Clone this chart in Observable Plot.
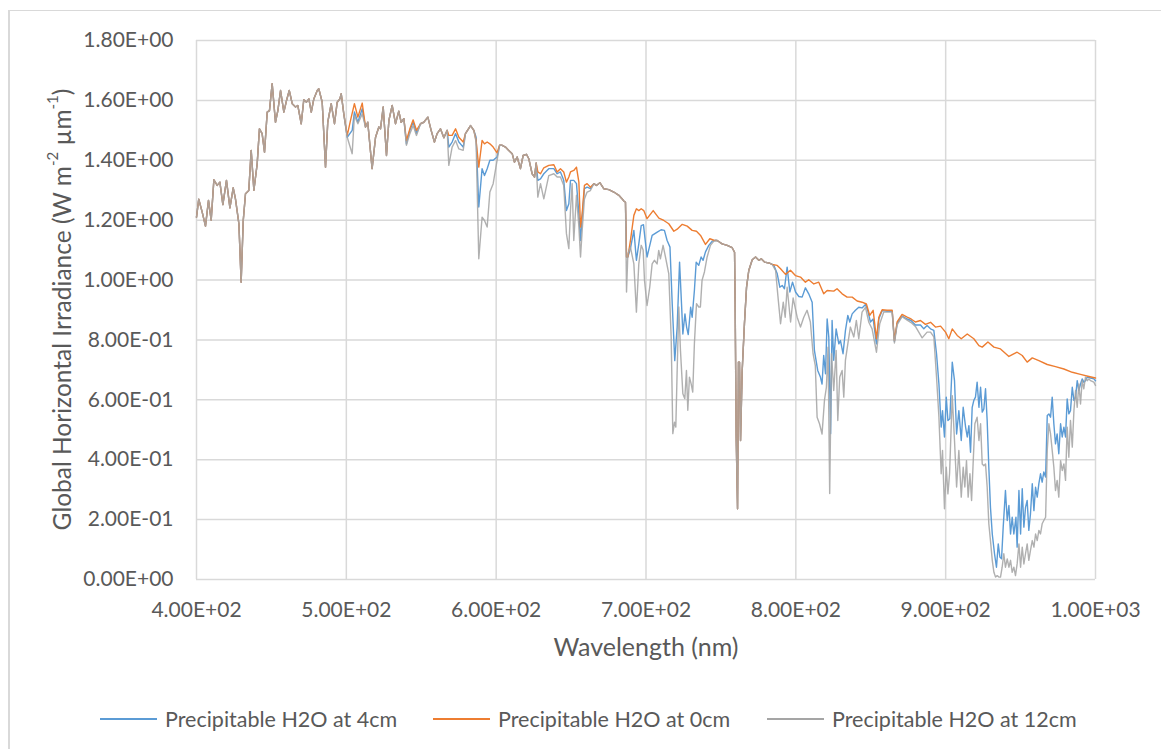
<!DOCTYPE html>
<html>
<head>
<meta charset="utf-8">
<script src="https://cdn.jsdelivr.net/npm/d3@7"></script>
<script src="https://cdn.jsdelivr.net/npm/@observablehq/plot@0.6"></script>
<style>
  html, body { margin: 0; padding: 0; background: #fff; overflow: hidden; }
  #wrap { position: relative; width: 1161px; height: 749px; font-family: Lato, "Open Sans", sans-serif; color: #595959; }
  #frame { position: absolute; left: 8px; top: 10px; width: 1300px; height: 900px; border-left: 2px solid #d9d9d9; border-top: 1.5px solid #d9d9d9; box-sizing: border-box; }
  #chart { position: absolute; left: 0; top: 0; }
  .legend-item { position: absolute; top: 705px; height: 28px; display: flex; align-items: center; font-size: 21.5px; white-space: nowrap; }
  .legend-item .swatch { width: 57px; height: 0; border-top: 2px solid; margin-right: 8px; }
</style>
</head>
<body>
<div id="wrap">
  <div id="frame"></div>
  <div id="chart"></div>
</div>
<script>
// Global horizontal irradiance spectra (W m-2 um-1) vs wavelength (nm)
// for three precipitable water amounts. Pairs are [wavelength, irradiance].

const seriesNames = ["Precipitable H2O at 4cm", "Precipitable H2O at 0cm", "Precipitable H2O at 12cm"];
const seriesColors = ["#5B9BD5", "#ED7D31", "#A5A5A5"];
const xTicks = [400, 500, 600, 700, 800, 900, 1000];
const yTicks = [0, 0.2, 0.4, 0.6, 0.8, 1.0, 1.2, 1.4, 1.6, 1.8];

// Stretches where the three spectra coincide
const sharedBlue = [[400,1.21],[401.5,1.27],[403.8,1.227],[406,1.18],[408,1.266],[409.8,1.2],[411.6,1.335],[413.8,1.316],[415.6,1.327],[417.6,1.252],[420,1.333],[422.3,1.241],[424.5,1.308],[426,1.271],[428.3,1.188],[429.8,0.993],[431.2,1.199],[432.7,1.288],[434.9,1.299],[436.5,1.433],[438.3,1.3],[440.5,1.388],[442,1.505],[443.8,1.489],[445.4,1.427],[447.2,1.561],[448.7,1.566],[450.5,1.656],[452.7,1.527],[454.3,1.566],[456.1,1.633],[458.3,1.561],[460.1,1.6],[461.9,1.633],[463.9,1.589],[466.1,1.578],[467.6,1.583],[469.9,1.522],[471.6,1.602],[473.4,1.594],[475,1.605],[476.6,1.561],[478.3,1.605],[480.6,1.633],[481.6,1.639],[483.9,1.594],[486.1,1.377],[487.6,1.527],[489.9,1.589],[492.1,1.522],[493.9,1.594],[495.7,1.605],[496.6,1.622],[498.3,1.555]];
const sharedOrange = [[604,1.45],[606.2,1.444],[608.4,1.433],[610.7,1.422],[612.2,1.394],[614,1.411],[616.2,1.372],[618,1.416],[620.2,1.42],[621.8,1.405],[624,1.355],[625.6,1.344]];
const sharedRed = [[665.2,1.322],[666.9,1.316],[669.2,1.325],[671.8,1.305],[675.2,1.302],[678.5,1.294],[681.9,1.283],[684.1,1.271],[685.2,1.264],[686.3,1.26]];
const sharedO2A = [[747.5,1.132],[750.8,1.121],[754.2,1.116],[757.5,1.108],[759.1,1.093],[759.5,0.921],[760.2,0.475],[761.1,0.236],[761.7,0.726],[762.4,0.726],[763.1,0.464],[764.2,0.698],[765.7,0.854],[767.1,0.976],[768.6,1.032],[770.9,1.068],[773.1,1.077],[775.3,1.066],[776.9,1.071],[779.1,1.06],[782,1.057],[784.2,1.052]];

// 0 cm of precipitable water
const dry500 = [[500.6,1.483],[502.8,1.533],[505.4,1.589],[507.7,1.544],[510.6,1.591],[512.8,1.511],[514.3,1.527],[517.2,1.372],[519.5,1.477],[521.7,1.511],[522.8,1.505],[524.6,1.578],[526.8,1.416],[528.4,1.533],[530.6,1.583],[532.8,1.522],[535,1.564],[536.6,1.527],[538.4,1.539],[540.1,1.466],[542.4,1.505],[544.6,1.535],[546.8,1.5],[549.5,1.522],[551.7,1.527],[554.4,1.544],[556.6,1.5],[558.8,1.461],[560.6,1.489],[562.8,1.505],[565.1,1.475],[567.3,1.5],[568.4,1.483],[570.6,1.483],[572.9,1.505],[575.1,1.477],[578,1.461],[579.5,1.489],[582.9,1.516],[585.1,1.5],[586.6,1.466],[588.4,1.377],[590.6,1.466],[592.2,1.455],[594,1.461],[595.8,1.455],[598,1.444],[600.6,1.425],[602.3,1.45]];
const dry630 = [[626.7,1.391],[627.8,1.361],[629.6,1.355],[631.8,1.375],[635.1,1.383],[638.5,1.385],[640.7,1.361],[642.9,1.372],[645.1,1.361],[646.9,1.327],[648.5,1.344],[649.6,1.361],[651.8,1.366],[653.6,1.377],[655.2,1.327],[656.3,1.177],[657.4,1.221],[658.9,1.316],[660.7,1.322],[662.9,1.31]];
const dry690 = [[687,1.077],[687.9,1.077],[689.6,1.132],[691.9,1.216],[693.6,1.238],[695.2,1.232],[696.8,1.238],[698.5,1.232],[700.7,1.205],[704.8,1.232],[708.6,1.207],[711.9,1.199],[715.2,1.188],[718.6,1.163],[720.8,1.17],[724.2,1.186],[727.5,1.18],[730.8,1.166],[733.7,1.163],[736.4,1.149],[739.7,1.119],[742.6,1.138],[745.3,1.133]];
const dry790 = [[787.6,1.049],[789.8,1.038],[793.1,1.019],[796.4,1.033],[799.7,1.015],[803.1,1.01],[806.4,0.993],[808.6,1.001],[812,0.987],[815.3,0.993],[818.6,0.954],[820.9,0.965],[825.3,0.963],[827.5,0.971],[830.9,0.954],[834.2,0.943],[837.6,0.943],[840.9,0.93],[844.2,0.926],[847.1,0.92],[849.3,0.882],[851.6,0.899],[853.8,0.804],[855.4,0.876],[857.6,0.901],[860.9,0.899],[864.3,0.899],[865.8,0.798],[867.6,0.86],[870.9,0.885],[874.3,0.876],[876.9,0.87],[879.8,0.86],[883.2,0.865],[886.5,0.852],[889.9,0.859],[893.2,0.843],[896.6,0.846],[899.9,0.826],[902.1,0.804],[904.4,0.837],[907.7,0.815],[910.4,0.804],[914.4,0.82],[918.8,0.804],[922.2,0.781],[924.4,0.776],[928.2,0.793],[932.2,0.776],[936.6,0.77],[942.2,0.745],[947.7,0.759],[951.1,0.748],[954.4,0.726],[957.8,0.74],[962.2,0.731],[967.8,0.718],[973.3,0.711],[978.9,0.703],[984.5,0.692],[990,0.685],[995.6,0.678],[1000,0.673]];

// 4 cm of precipitable water
const mid500 = [[500.6,1.477],[503.9,1.5],[505.4,1.561],[507.7,1.527],[510.6,1.572],[512.8,1.511],[514.3,1.527],[517.2,1.372],[519.5,1.477],[521.7,1.511],[522.8,1.505],[524.6,1.578],[526.8,1.416],[528.4,1.533],[530.6,1.583],[532.8,1.522],[535,1.564],[536.6,1.527],[538.4,1.539],[540.1,1.455],[542.4,1.5],[544.6,1.527],[546.8,1.489],[549.5,1.522],[551.7,1.527],[554.4,1.544],[556.6,1.5],[558.8,1.461],[560.6,1.489],[562.8,1.505],[565.1,1.475],[567.3,1.5],[568.4,1.444],[570.6,1.461],[572.9,1.489],[575.1,1.461],[578,1.444],[579.5,1.489],[582.9,1.516],[585.1,1.5],[586.6,1.477],[588.4,1.244],[590.6,1.372],[592.2,1.349],[594,1.372],[595.8,1.4],[598,1.4],[600.6,1.411],[602.3,1.45]];
const mid630 = [[626.7,1.391],[627.8,1.333],[629.6,1.338],[631.8,1.355],[635.1,1.372],[638.5,1.372],[640.7,1.355],[642.9,1.361],[645.1,1.333],[646.9,1.232],[648.5,1.255],[649.6,1.333],[651.8,1.333],[653.6,1.322],[655.2,1.221],[656.3,1.132],[657.4,1.21],[658.9,1.305],[660.7,1.31],[662.9,1.305]];
const mid690 = [[687,1.077],[687.9,1.077],[689.6,1.105],[691.9,1.166],[693.6,1.066],[695.2,1.121],[696.8,1.182],[698.3,1.185],[700.7,1.077],[704.1,1.149],[707.5,1.16],[710.1,1.168],[712.3,1.166],[714.1,1.132],[716,1.11],[717.5,0.921],[719.2,0.731],[720.8,0.843],[722.4,1.06],[723.7,0.921],[724.6,0.82],[726,0.887],[727.1,0.843],[728.2,0.818],[729.8,0.909],[730.8,0.876],[732.3,0.965],[733.5,1.06],[735.2,1.049],[736.8,1.077],[738.1,1.066],[739.7,1.094],[741.9,1.116],[744.2,1.13],[746.4,1.133]];
const mid790 = [[785.3,1.049],[787.6,1.021],[789.3,0.976],[790.9,0.982],[792.4,0.971],[794.2,1.043],[796,0.96],[797.8,0.993],[799.8,0.96],[802,0.945],[804.2,0.943],[806.4,0.974],[808.6,0.954],[810.9,0.926],[812.4,0.765],[814.6,0.698],[816.4,0.676],[817.5,0.653],[818.6,0.748],[819.8,0.687],[820.9,0.87],[822,0.81],[823.2,0.487],[824.2,0.865],[825.3,0.732],[826.9,0.837],[828.7,0.787],[829.8,0.798],[831.5,0.754],[833.1,0.831],[834.7,0.882],[836,0.86],[837.6,0.887],[839.8,0.899],[842,0.909],[844.2,0.907],[846.5,0.918],[848,0.898],[849.8,0.86],[851.6,0.87],[853.8,0.787],[855.4,0.87],[857.6,0.898],[860.9,0.896],[864.3,0.896],[865.8,0.795],[867.6,0.855],[870.9,0.88],[874.3,0.87],[876.9,0.865],[879.8,0.85],[883.2,0.85],[885.4,0.837],[887.6,0.848],[889.9,0.837],[892.1,0.832],[893.9,0.754],[895.5,0.653],[897,0.509],[897.9,0.564],[899.2,0.476],[900.4,0.609],[901.5,0.531],[902.8,0.537],[904.4,0.726],[905.9,0.664],[907.3,0.486],[908.8,0.564],[910.4,0.464],[911.7,0.575],[913.3,0.509],[914.4,0.476],[915.5,0.514],[916.6,0.425],[917.7,0.575],[918.8,0.598],[919.9,0.609],[921,0.659],[922.2,0.575],[923.3,0.642],[924.4,0.559],[925.5,0.57],[926.6,0.637],[927.7,0.531],[928.8,0.375],[929.9,0.241],[931.1,0.152],[932.6,0.086],[933.9,0.041],[935.1,0.119],[936.2,0.075],[937.3,0.069],[938.4,0.175],[939.9,0.297],[941.1,0.197],[942.2,0.247],[943.3,0.152],[944.4,0.208],[945.5,0.152],[946.9,0.208],[947.7,0.108],[948.9,0.297],[950,0.152],[951.1,0.303],[952.2,0.175],[953.3,0.241],[954.4,0.264],[955.5,0.164],[956.6,0.219],[957.8,0.32],[958.9,0.23],[960,0.308],[961.1,0.275],[962.2,0.32],[963.3,0.353],[964.4,0.325],[965.5,0.359],[966.7,0.342],[967.8,0.548],[968.9,0.553],[970,0.542],[971.1,0.609],[972.2,0.52],[973.3,0.453],[974.4,0.486],[975.5,0.42],[976.7,0.52],[977.8,0.476],[978.9,0.509],[980,0.476],[981.1,0.603],[982.2,0.553],[983.3,0.564],[984.5,0.642],[985.6,0.598],[986.7,0.609],[987.8,0.664],[988.9,0.631],[990,0.653],[991.1,0.67],[992.2,0.659],[993.3,0.664],[994.5,0.676],[996.7,0.673],[998.9,0.67],[1000,0.664]];

// 12 cm of precipitable water
const wet500 = [[500.6,1.477],[503.9,1.422],[505.4,1.55],[507.7,1.522],[510.6,1.555],[512.8,1.511],[514.3,1.527],[517.2,1.372],[519.5,1.477],[521.7,1.511],[522.8,1.505],[524.6,1.578],[526.8,1.416],[528.4,1.533],[530.6,1.583],[532.8,1.522],[535,1.564],[536.6,1.527],[538.4,1.539],[540.1,1.45],[542.4,1.489],[544.6,1.516],[546.8,1.483],[549.5,1.522],[551.7,1.527],[554.4,1.544],[556.6,1.5],[558.8,1.461],[560.6,1.489],[562.8,1.505],[565.1,1.475],[567.3,1.5],[568.4,1.383],[570.6,1.444],[572.9,1.466],[575.1,1.438],[578,1.433],[579.5,1.489],[582.9,1.516],[585.1,1.5],[586.6,1.461],[588.4,1.071],[590.6,1.21],[592.2,1.199],[594,1.177],[595.8,1.294],[598,1.322],[600.6,1.4],[602.3,1.45]];
const wet630 = [[626.7,1.391],[627.8,1.277],[629.6,1.322],[631.8,1.271],[635.1,1.349],[638.5,1.355],[640.7,1.344],[642.9,1.344],[645.1,1.316],[646.9,1.155],[648.5,1.105],[649.6,1.232],[650.7,1.322],[651.8,1.132],[653.6,1.283],[655.2,1.177],[656.3,1.077],[657.4,1.166],[658.9,1.271],[660.7,1.294],[662.9,1.299]];
const wet690 = [[687,0.96],[687.9,1.088],[689.6,1.11],[691.9,1.054],[693.6,0.893],[695.2,1.054],[696.8,1.116],[698.1,1.1],[699,0.999],[700.7,0.915],[702.5,0.976],[704.1,1.054],[705.6,1.066],[707.4,1.054],[708.5,1.099],[709.6,1.071],[711.4,1.116],[713,1.077],[715.2,1.021],[716.8,0.809],[717.9,0.487],[719,0.525],[719.9,0.509],[720.8,0.698],[721.9,0.91],[723,0.765],[724.6,0.62],[725.9,0.604],[727,0.698],[727.9,0.565],[729,0.676],[730.1,0.654],[731.2,0.626],[732.3,0.787],[733.7,0.921],[735.2,0.91],[736.3,0.91],[737.4,0.999],[739,1.027],[740.8,1.077],[743,1.116],[745.3,1.13]];
const wet790 = [[786.5,1.032],[788,0.949],[789.8,0.854],[791.6,0.926],[792.9,0.876],[794.2,0.976],[796.5,0.86],[798.2,0.94],[800.9,0.876],[803.1,0.843],[805.3,0.876],[807.5,0.899],[809.7,0.86],[811.5,0.754],[813,0.714],[814.2,0.542],[815.8,0.52],[817.5,0.486],[819.1,0.598],[820.4,0.642],[821.5,0.776],[822.6,0.287],[823.8,0.754],[825.3,0.631],[826.9,0.765],[828,0.531],[829.3,0.676],[830.9,0.698],[832,0.609],[833.1,0.732],[834.7,0.787],[836.4,0.843],[838.7,0.81],[840.4,0.865],[842,0.804],[844.2,0.893],[846.5,0.909],[848.7,0.859],[850.9,0.837],[853.8,0.759],[856,0.854],[858.7,0.893],[860.9,0.893],[864.3,0.893],[865.8,0.79],[867.6,0.85],[870.9,0.878],[874.3,0.866],[876.9,0.858],[879.8,0.845],[884.3,0.807],[887.6,0.826],[889.9,0.826],[892.1,0.81],[893.9,0.676],[895.5,0.542],[897,0.353],[897.9,0.431],[899.2,0.236],[900.4,0.375],[901.5,0.286],[902.6,0.353],[904.4,0.614],[905.9,0.464],[907.3,0.309],[908.8,0.431],[910.4,0.275],[911.7,0.375],[912.8,0.309],[913.9,0.397],[915,0.275],[916.2,0.353],[917.3,0.264],[918.4,0.397],[919.5,0.52],[921,0.542],[922.2,0.464],[923.3,0.52],[924.4,0.386],[925.5,0.38],[926.6,0.386],[927.7,0.309],[928.8,0.186],[929.9,0.13],[931.1,0.064],[932.2,0.024],[933.3,0.008],[934.4,0.013],[935.5,0.008],[936.6,0.008],[937.7,0.041],[938.8,0.086],[939.9,0.041],[941.1,0.069],[942.2,0.041],[943.3,0.064],[944.4,0.024],[945.5,0.041],[946.6,0.013],[947.7,0.052],[948.9,0.119],[950,0.041],[951.1,0.108],[952.2,0.052],[953.3,0.086],[954.4,0.119],[955.5,0.064],[956.6,0.097],[957.8,0.13],[958.9,0.108],[960,0.152],[961.1,0.13],[962.2,0.164],[963.3,0.152],[964.4,0.186],[965.5,0.197],[966.7,0.208],[967.8,0.431],[968.9,0.52],[970,0.486],[971.1,0.431],[972.2,0.375],[973.3,0.297],[974.4,0.331],[975.5,0.275],[976.7,0.397],[977.8,0.364],[978.9,0.386],[980,0.331],[981.1,0.509],[982.2,0.408],[983.3,0.531],[984.5,0.442],[985.6,0.564],[986.7,0.631],[987.8,0.575],[988.9,0.653],[990,0.586],[991.1,0.664],[992.2,0.637],[993.3,0.676],[994.5,0.664],[995.6,0.67],[996.7,0.664],[998.9,0.659],[1000,0.648]];

// Assemble each spectrum from its own stretches and the shared ones
const pw4 = [...sharedBlue, ...mid500, ...sharedOrange, ...mid630, ...sharedRed, ...mid690, ...sharedO2A, ...mid790];
const pw0 = [...sharedBlue, ...dry500, ...sharedOrange, ...dry630, ...sharedRed, ...dry690, ...sharedO2A, ...dry790];
const pw12 = [...sharedBlue, ...wet500, ...sharedOrange, ...wet630, ...sharedRed, ...wet690, ...sharedO2A, ...wet790];

const toRows = (pairs, name) => pairs.map(([wl, irr]) => ({wl, irr, name}));
const spectra = [toRows(pw4, seriesNames[0]), toRows(pw0, seriesNames[1]), toRows(pw12, seriesNames[2])];

// Excel-style scientific labels, e.g. 1.80E+00, 8.00E-01
function sci(v) {
  const [m, e] = v.toExponential(2).split("e");
  const n = +e;
  return m + "E" + (n < 0 ? "-" : "+") + String(Math.abs(n)).padStart(2, "0");
}

const grid = {stroke: "#d9d9d9", strokeOpacity: 1, strokeWidth: 1.5};

const chart = Plot.plot({
  width: 1161,
  height: 690,
  marginLeft: 196,
  marginRight: 66,
  marginTop: 40,
  marginBottom: 111,
  style: {fontFamily: "Lato, 'Open Sans', sans-serif", fontSize: "21px", color: "#595959", background: "transparent", overflow: "visible"},
  x: {domain: [400, 1000]},
  y: {domain: [0, 1.8]},
  marks: [
    Plot.gridX(xTicks, grid),
    Plot.gridY(yTicks, grid),
    Plot.line(spectra[0], {x: "wl", y: "irr", stroke: seriesColors[0], strokeWidth: 1.4}),
    Plot.line(spectra[1], {x: "wl", y: "irr", stroke: seriesColors[1], strokeWidth: 1.4}),
    Plot.line(spectra[2], {x: "wl", y: "irr", stroke: seriesColors[2], strokeWidth: 1.4, strokeOpacity: 0.88}),
    Plot.axisX(xTicks, {tickSize: 0, tickPadding: 23, tickFormat: sci, label: null, fill: "#595959"}),
    Plot.axisY(yTicks, {tickSize: 0, tickPadding: 23, tickFormat: sci, label: null, fill: "#595959"}),
    Plot.text(["Wavelength (nm)"], {frameAnchor: "bottom", dy: 76, fontSize: 25, fill: "#595959"})
  ]
});

document.getElementById("chart").appendChild(chart);

// Y-axis title with superscript units
const svg = d3.select(chart);
const yTitle = svg.append("text")
  .attr("transform", "translate(61,309.5) rotate(-90)")
  .attr("text-anchor", "middle")
  .attr("dominant-baseline", "central")
  .attr("fill", "#595959")
  .style("font-size", "24.5px");
yTitle.append("tspan").text("Global Horizontal Irradiance (W m");
yTitle.append("tspan").attr("baseline-shift", "super").style("font-size", "15px").text("-2");
yTitle.append("tspan").text(" µm");
yTitle.append("tspan").attr("baseline-shift", "super").style("font-size", "15px").text("-1");
yTitle.append("tspan").text(")");

// Legend below the plot
const wrap = document.getElementById("wrap");
const legendLeft = [100, 433, 767];
seriesNames.forEach((name, i) => {
  const item = document.createElement("div");
  item.className = "legend-item";
  item.style.left = legendLeft[i] + "px";
  const sw = document.createElement("span");
  sw.className = "swatch";
  sw.style.borderTopColor = seriesColors[i];
  const label = document.createElement("span");
  label.textContent = name;
  item.appendChild(sw);
  item.appendChild(label);
  wrap.appendChild(item);
});
</script>
</body>
</html>
